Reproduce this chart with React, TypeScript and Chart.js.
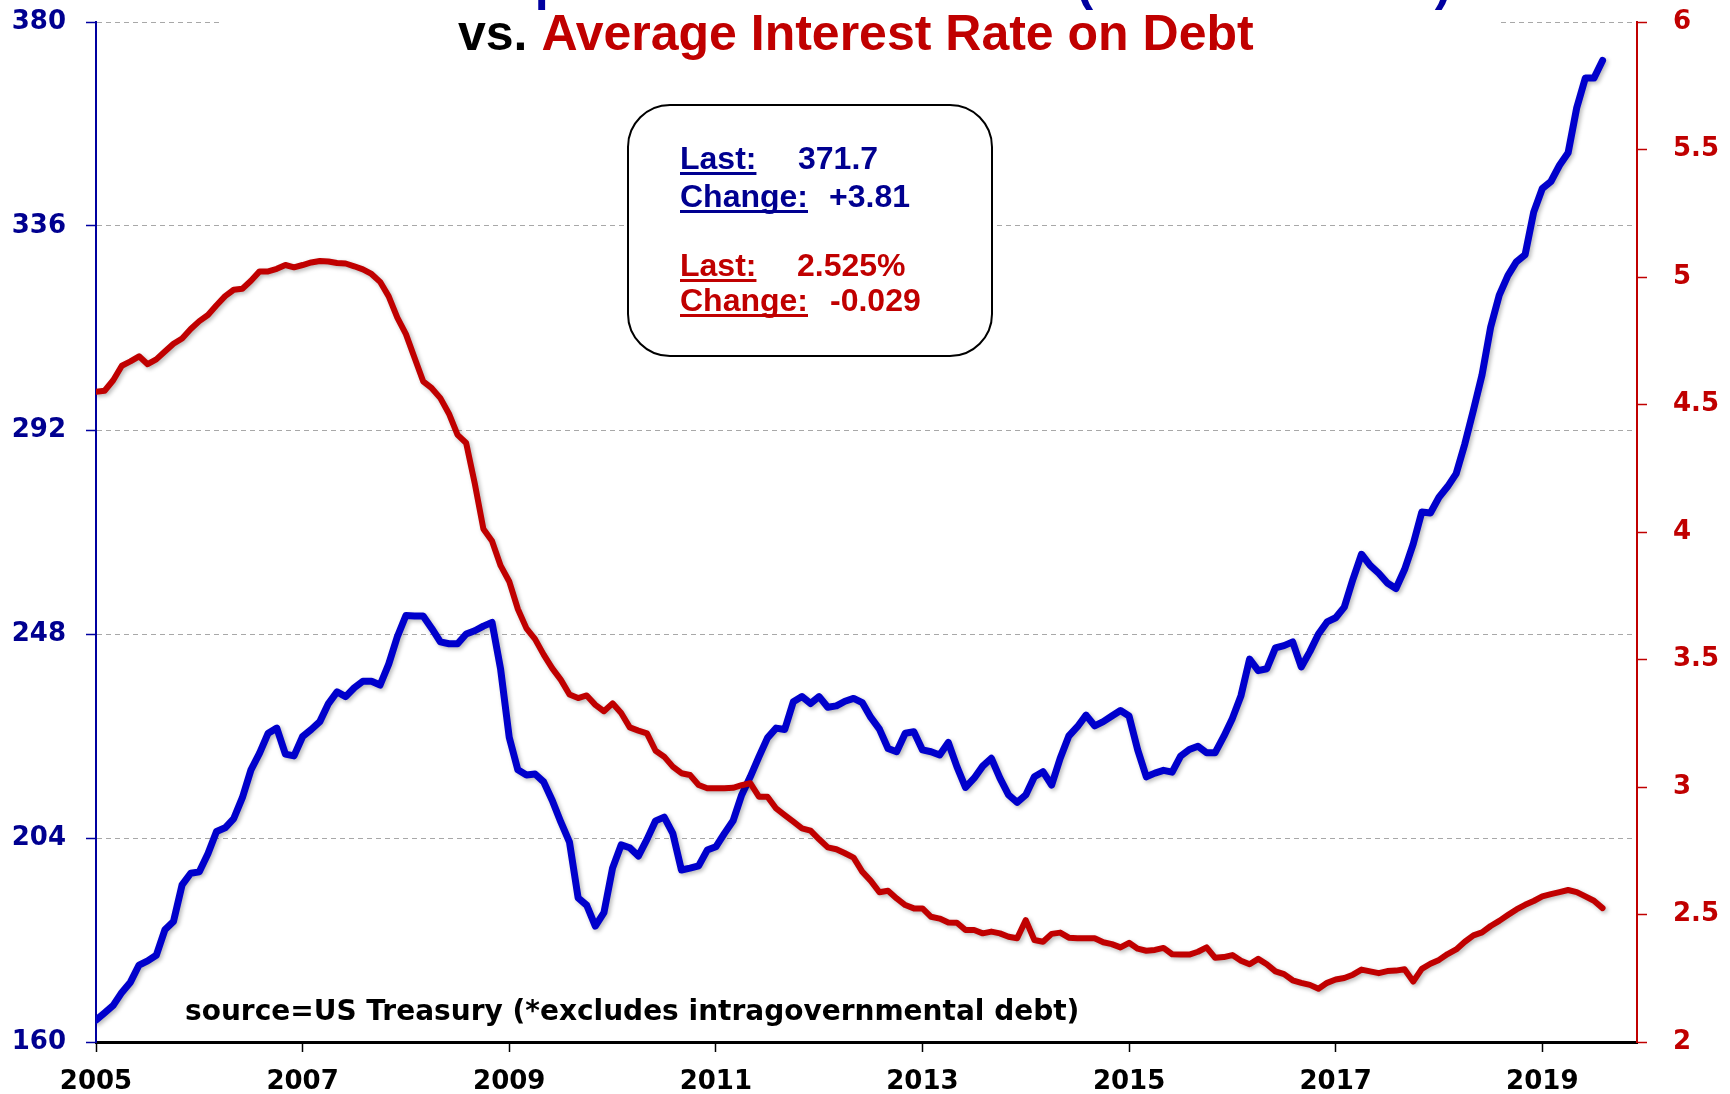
import { useEffect, useRef } from "react";
import { Chart, registerables } from "chart.js";

Chart.register(...registerables);

// ---- Data (monthly, Jan 2005 .. Aug 2019) ----
const START_YEAR = 2005;
const END_X = 2019 + 11 / 12; // axis runs through Dec 2019

const xTickYears = [2005, 2007, 2009, 2011, 2013, 2015, 2017, 2019];
const leftTicks = [160, 204, 248, 292, 336, 380];
const rightTicks = [2, 2.5, 3, 3.5, 4, 4.5, 5, 5.5, 6];

// Interest expense on public debt*, 12-month sum ($ billions)
const interestExpense = [
  164.7, 166.3, 167.9, 170.7, 172.9, 176.6, 177.5, 178.7, 184.2, 186.0, 193.9, 196.4,
  196.7, 200.6, 205.4, 206.2, 208.2, 212.7, 218.7, 222.3, 226.6, 227.7, 222.1, 221.7,
  225.9, 227.4, 229.1, 233.0, 235.5, 234.5, 236.4, 237.8, 237.8, 237.0, 241.5, 247.4,
  252.0, 251.9, 251.9, 249.2, 246.3, 245.9, 245.9, 248.0, 248.7, 249.7, 250.5, 240.4,
  225.7, 218.7, 217.6, 217.8, 216.1, 212.1, 207.4, 203.1, 191.1, 189.5, 185.0, 187.9,
  197.5, 202.5, 201.9, 200.1, 203.7, 207.7, 208.5, 205.0, 197.1, 197.5, 198.0, 201.4,
  202.1, 205.0, 207.7, 213.3, 217.2, 221.5, 225.6, 227.7, 227.4, 233.4, 234.5, 233.0,
  234.5, 232.2, 232.5, 233.5, 234.1, 233.2, 230.0, 227.5, 223.3, 222.6, 226.6, 226.9,
  223.0, 222.6, 221.9, 224.6, 219.4, 214.9, 216.9, 219.5, 221.2, 216.9, 213.3, 211.7,
  213.3, 217.2, 218.3, 215.4, 221.2, 226.0, 228.0, 230.5, 228.2, 229.1, 230.3, 231.5,
  230.3, 223.0, 217.2, 218.0, 218.6, 218.2, 221.7, 223.1, 223.8, 222.4, 222.4, 225.9,
  229.8, 234.7, 242.6, 240.1, 240.5, 245.0, 245.5, 246.3, 240.9, 244.2, 248.0, 250.6,
  251.5, 253.8, 259.8, 265.2, 262.8, 261.1, 259.0, 257.8, 261.9, 267.4, 274.3, 274.1,
  277.5, 279.8, 282.6, 289.0, 296.3, 303.9, 314.2, 321.1, 325.3, 328.3, 329.8, 339.0,
  344.1, 345.6, 349.1, 351.8, 361.5, 367.9, 367.9, 371.7,
];

// Average interest rate on debt (%)
const avgRate = [
  4.550, 4.554, 4.595, 4.652, 4.669, 4.689, 4.658, 4.677, 4.708, 4.738, 4.759, 4.796,
  4.827, 4.851, 4.889, 4.925, 4.950, 4.954, 4.985, 5.022, 5.022, 5.032, 5.047, 5.038,
  5.047, 5.057, 5.063, 5.061, 5.055, 5.053, 5.042, 5.030, 5.012, 4.981, 4.924, 4.841,
  4.776, 4.683, 4.591, 4.564, 4.525, 4.464, 4.381, 4.349, 4.190, 4.012, 3.965, 3.868,
  3.806, 3.698, 3.622, 3.580, 3.519, 3.465, 3.420, 3.363, 3.349, 3.359, 3.322, 3.297,
  3.328, 3.290, 3.234, 3.221, 3.210, 3.142, 3.119, 3.080, 3.054, 3.047, 3.008, 2.995,
  2.995, 2.995, 2.997, 3.007, 3.015, 2.962, 2.962, 2.916, 2.890, 2.864, 2.838, 2.829,
  2.795, 2.763, 2.756, 2.740, 2.723, 2.668, 2.632, 2.587, 2.593, 2.563, 2.537, 2.524,
  2.524, 2.491, 2.484, 2.469, 2.468, 2.439, 2.439, 2.426, 2.433, 2.426, 2.413, 2.407,
  2.478, 2.400, 2.393, 2.424, 2.429, 2.409, 2.407, 2.407, 2.407, 2.391, 2.384, 2.371,
  2.389, 2.366, 2.358, 2.361, 2.369, 2.344, 2.343, 2.343, 2.354, 2.371, 2.330, 2.333,
  2.341, 2.319, 2.305, 2.326, 2.305, 2.277, 2.266, 2.242, 2.232, 2.224, 2.209, 2.232,
  2.245, 2.251, 2.264, 2.284, 2.277, 2.270, 2.278, 2.280, 2.285, 2.237, 2.287, 2.307,
  2.322, 2.345, 2.363, 2.393, 2.418, 2.430, 2.455, 2.475, 2.498, 2.520, 2.538, 2.553,
  2.571, 2.580, 2.588, 2.596, 2.588, 2.571, 2.554, 2.525,
];

const titleLine1 = "Interest Expense on Public Debt* (12-month sum)";
const titleVs = "vs. ";
const titleLine2 = "Average Interest Rate on Debt";
const sourceText = "source=US Treasury (*excludes intragovernmental debt)";
const boxBlue = { last: "371.7", change: "+3.81" };
const boxRed = { last: "2.525%", change: "-0.029" };

const W = 1730;
const H = 1094;

const BLUE_LINE = "#0000cc";
const BLUE_TXT = "#000090";
const RED = "#c00000";
const TICK_FONT = { family: "'DejaVu Sans', sans-serif", weight: "bold" as const, size: 26 };
const ARIAL = "'Liberation Sans', Arial, sans-serif";
const WIDE = "'DejaVu Sans', sans-serif";

const shadowPlugin = {
  id: "lineShadow",
  beforeDatasetsDraw(chart: any) {
    const ctx = chart.ctx as CanvasRenderingContext2D;
    ctx.save();
    ctx.shadowColor = "rgba(0,0,0,0.28)";
    ctx.shadowBlur = 4;
    ctx.shadowOffsetX = 2;
    ctx.shadowOffsetY = 2;
  },
  afterDatasetsDraw(chart: any) {
    chart.ctx.restore();
  },
};

const overlayPlugin = {
  id: "overlay",
  afterDraw(chart: any) {
    const ctx = chart.ctx as CanvasRenderingContext2D;
    ctx.save();
    // white band behind title (hides the top gridline)
    ctx.fillStyle = "#ffffff";
    ctx.fillRect(221, 0, 1500 - 221, 25);

    ctx.textBaseline = "alphabetic";
    ctx.textAlign = "left";
    ctx.font = `bold 50px ${ARIAL}`;
    ctx.fillStyle = "#0000a0";
    ctx.fillText(titleLine1, 279, 0);

    ctx.fillStyle = "#000000";
    ctx.fillText(titleVs, 458, 50);
    const vsW = ctx.measureText(titleVs).width;
    ctx.fillStyle = RED;
    ctx.fillText(titleLine2, 458 + vsW, 50);

    // info box
    const bx = 628, by = 105, bw = 364, bh = 251, r = 42;
    ctx.beginPath();
    ctx.moveTo(bx + r, by);
    ctx.lineTo(bx + bw - r, by);
    ctx.arcTo(bx + bw, by, bx + bw, by + r, r);
    ctx.lineTo(bx + bw, by + bh - r);
    ctx.arcTo(bx + bw, by + bh, bx + bw - r, by + bh, r);
    ctx.lineTo(bx + r, by + bh);
    ctx.arcTo(bx, by + bh, bx, by + bh - r, r);
    ctx.lineTo(bx, by + r);
    ctx.arcTo(bx, by, bx + r, by, r);
    ctx.closePath();
    ctx.fillStyle = "#ffffff";
    ctx.fill();
    ctx.lineWidth = 2;
    ctx.strokeStyle = "#000000";
    ctx.stroke();

    ctx.font = `bold 32px ${ARIAL}`;
    const drawRow = (label: string, value: string, y: number, vx: number, color: string) => {
      ctx.fillStyle = color;
      ctx.fillText(label, 680, y);
      const lw = ctx.measureText(label).width;
      ctx.fillRect(680, y + 3, lw, 3);
      ctx.fillText(value, vx, y);
    };
    drawRow("Last:", boxBlue.last, 169, 798, BLUE_TXT);
    drawRow("Change:", boxBlue.change, 207, 829, BLUE_TXT);
    drawRow("Last:", boxRed.last, 276, 797, RED);
    drawRow("Change:", boxRed.change, 311, 830, RED);

    // source note
    ctx.font = `bold 28px ${WIDE}`;
    ctx.fillStyle = "#000000";
    ctx.fillText(sourceText, 185, 1020);
    ctx.restore();
  },
};

export default function App() {
  const canvasRef = useRef<HTMLCanvasElement | null>(null);

  useEffect(() => {
    const canvas = canvasRef.current;
    if (!canvas) return;
    const toXY = (arr: number[]) =>
      arr.map((v, i) => ({ x: START_YEAR + i / 12, y: v }));

    const chart = new Chart(canvas, {
      type: "line",
      data: {
        datasets: [
          {
            label: "Average Interest Rate on Debt",
            data: toXY(avgRate),
            yAxisID: "y1",
            borderColor: RED,
            borderWidth: 6,
            pointRadius: 0,
            tension: 0,
            borderJoinStyle: "round",
            borderCapStyle: "round",
          },
          {
            label: "Interest Expense",
            data: toXY(interestExpense),
            yAxisID: "y",
            borderColor: BLUE_LINE,
            borderWidth: 7,
            pointRadius: 0,
            tension: 0,
            borderJoinStyle: "round",
            borderCapStyle: "round",
          },
        ],
      },
      options: {
        animation: false,
        responsive: false,
        devicePixelRatio: 1,
        layout: { padding: { top: 22, left: 0, right: 0, bottom: 0 } },
        plugins: {
          legend: { display: false },
          title: { display: false },
          tooltip: { enabled: false },
        },
        scales: {
          x: {
            type: "linear",
            min: START_YEAR,
            max: END_X,
            afterBuildTicks: (s: any) => {
              s.ticks = xTickYears.map((v) => ({ value: v }));
            },
            afterFit: (s: any) => {
              s.height = H - 1042;
              s.paddingLeft = 0;
              s.paddingRight = 0;
            },
            ticks: {
              autoSkip: false,
              maxRotation: 0,
              color: "#000000",
              font: TICK_FONT,
              padding: 15,
              callback: (v: any) => String(v),
            },
            grid: {
              drawOnChartArea: false,
              drawTicks: true,
              tickLength: 10,
              tickColor: "#000000",
              tickWidth: 1.5,
            },
            border: { color: "#000000", width: 3 },
          },
          y: {
            position: "left",
            min: 160,
            max: 380,
            afterBuildTicks: (s: any) => {
              s.ticks = leftTicks.map((v) => ({ value: v }));
            },
            afterFit: (s: any) => {
              s.width = 96;
              s.paddingTop = 0;
              s.paddingBottom = 0;
            },
            ticks: {
              color: BLUE_TXT,
              font: TICK_FONT,
              padding: 20,
              callback: (v: any) => String(v),
            },
            grid: {
              color: "#a8a8a8",
              lineWidth: 1,
              drawTicks: true,
              tickLength: 10,
              tickColor: "#0000a0",
              tickWidth: 1.5,
              tickBorderDash: [],
            },
            border: { color: "#0000a0", width: 2, dash: [5, 4] },
          },
          y1: {
            position: "right",
            min: 2,
            max: 6,
            afterBuildTicks: (s: any) => {
              s.ticks = rightTicks.map((v) => ({ value: v }));
            },
            afterFit: (s: any) => {
              s.width = W - 1637;
              s.paddingTop = 0;
              s.paddingBottom = 0;
            },
            ticks: {
              color: RED,
              font: TICK_FONT,
              padding: 26,
              callback: (v: any) => String(v),
            },
            grid: {
              drawOnChartArea: false,
              drawTicks: true,
              tickLength: 10,
              tickColor: RED,
              tickWidth: 1.5,
            },
            border: { color: RED, width: 2 },
          },
        },
      } as any,
      plugins: [shadowPlugin, overlayPlugin],
    });
    return () => chart.destroy();
  }, []);

  return (
    <div style={{ position: "absolute", left: 0, top: 0, width: W, height: H, background: "#fff" }}>
      <canvas ref={canvasRef} width={W} height={H} style={{ width: W, height: H, display: "block" }} />
    </div>
  );
}
